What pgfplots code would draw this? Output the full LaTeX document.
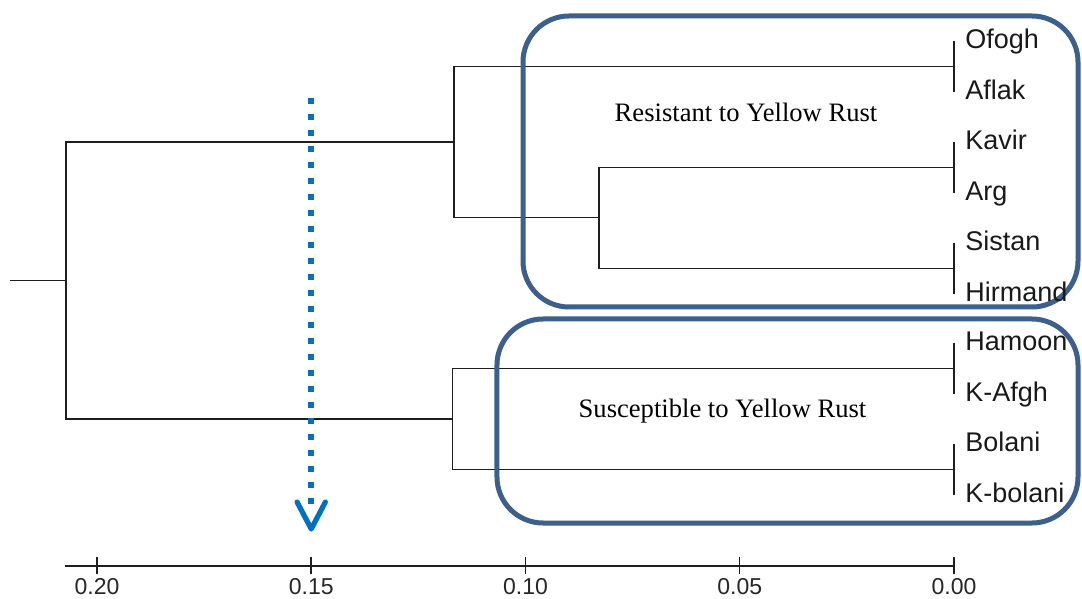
\documentclass[border=0pt]{standalone}
\usepackage{fontspec}
\setmainfont{Liberation Serif}
\setsansfont{Liberation Sans}
\usepackage{pgfplots}
\pgfplotsset{compat=1.18}
\definecolor{boxblue}{RGB}{60,95,140}
\definecolor{arrowblue}{RGB}{0,112,192}
\definecolor{tree}{RGB}{30,30,30}

\begin{document}
\begin{tikzpicture}[
    leaf/.style={font=\sffamily\fontsize{13.5}{16}\selectfont, anchor=base west, inner sep=0pt, text=black!90},
    grouplabel/.style={font=\fontsize{13.3}{15}\selectfont, anchor=base, inner sep=0pt},
    dend/.style={tree, line width=0.8pt, mark=none}
]
    % main canvas: x = distance (reversed), y = pixel row of the reference
    \begin{axis}[
        at={(0,0)}, anchor=south west,
        scale only axis,
        width=541pt, height=299.5pt,
        xmin=-0.029872, xmax=0.222637, x dir=reverse,
        ymin=0, ymax=599, y dir=reverse,
        axis lines=none,
        clip=false
    ]
        % leaf pairs joined at distance 0
        \addplot[dend] coordinates {(0,41) (0,92)};
        \addplot[dend] coordinates {(0,142) (0,193)};
        \addplot[dend] coordinates {(0,243) (0,294)};
        \addplot[dend] coordinates {(0,343) (0,394)};
        \addplot[dend] coordinates {(0,444) (0,495)};
        % merges
        \addplot[dend] coordinates {(0,167.5) (0.08285,167.5) (0.08285,268.5) (0,268.5)};
        \addplot[dend] coordinates {(0,66.5) (0.11662,66.5) (0.11662,217.5) (0.08285,217.5)};
        \addplot[dend] coordinates {(0,368.5) (0.11708,368.5) (0.11708,469.5) (0,469.5)};
        \addplot[dend] coordinates {(0.11662,142) (0.20723,142) (0.20723,419) (0.11708,419)};
        \addplot[dend] coordinates {(0.20723,280.5) (0.22030,280.5)};

        % cut-off arrow at 0.15
        \addplot[arrowblue, line width=3pt, dash pattern=on 3pt off 5pt] coordinates {(0.15,98) (0.15,506)};
        \addplot[arrowblue, line width=2.6pt, line cap=round, line join=round] coordinates {(0.1533,502) (0.15,529) (0.1467,502)};

        % group boxes
        \draw[boxblue, line width=2.5pt, rounded corners=23pt]
            (axis cs:0.10058,16) rectangle (axis cs:-0.02894,307);
        \draw[boxblue, line width=2.5pt, rounded corners=23pt]
            (axis cs:0.10665,319) rectangle (axis cs:-0.02894,523);
        \node[grouplabel] at (axis cs:0.04853,121.5) {Resistant to Yellow Rust};
        \node[grouplabel] at (axis cs:0.05402,417) {Susceptible to Yellow Rust};

        % leaf labels
        \node[leaf] at (axis cs:-0.00257,48.5) {Ofogh};
        \node[leaf] at (axis cs:-0.00257,99.5) {Aflak};
        \node[leaf] at (axis cs:-0.00257,149.5) {Kavir};
        \node[leaf] at (axis cs:-0.00257,200.5) {Arg};
        \node[leaf] at (axis cs:-0.00257,250.5) {Sistan};
        \node[leaf] at (axis cs:-0.00257,301.5) {Hirmand};
        \node[leaf] at (axis cs:-0.00257,350.5) {Hamoon};
        \node[leaf] at (axis cs:-0.00257,401.5) {K-Afgh};
        \node[leaf] at (axis cs:-0.00257,451.5) {Bolani};
        \node[leaf] at (axis cs:-0.00257,502.5) {K-bolani};
    \end{axis}

    % distance scale
    \begin{axis}[
        at={(32.5pt,16.5pt)}, anchor=south west,
        scale only axis,
        width=444.5pt, height=10pt,
        xmin=0, xmax=0.20747, x dir=reverse,
        ymin=0, ymax=1,
        axis x line=bottom,
        hide y axis,
        axis line style={tree, line width=0.75pt, -},
        xtick={0,0.05,0.10,0.15,0.20},
        xtick align=center,
        major tick length=8.5pt,
        major tick style={tree, line width=0.75pt},
        xticklabel style={font=\sffamily\fontsize{11.5}{13}\selectfont, text=black!85, yshift=-1pt, inner sep=1pt},
        /pgf/number format/assume math mode=true,
        /pgf/number format/.cd, fixed, fixed zerofill, precision=2
    ]
    \end{axis}

    \pgfresetboundingbox
    \useasboundingbox (0,0) rectangle (541pt,299.5pt);
\end{tikzpicture}
\end{document}
